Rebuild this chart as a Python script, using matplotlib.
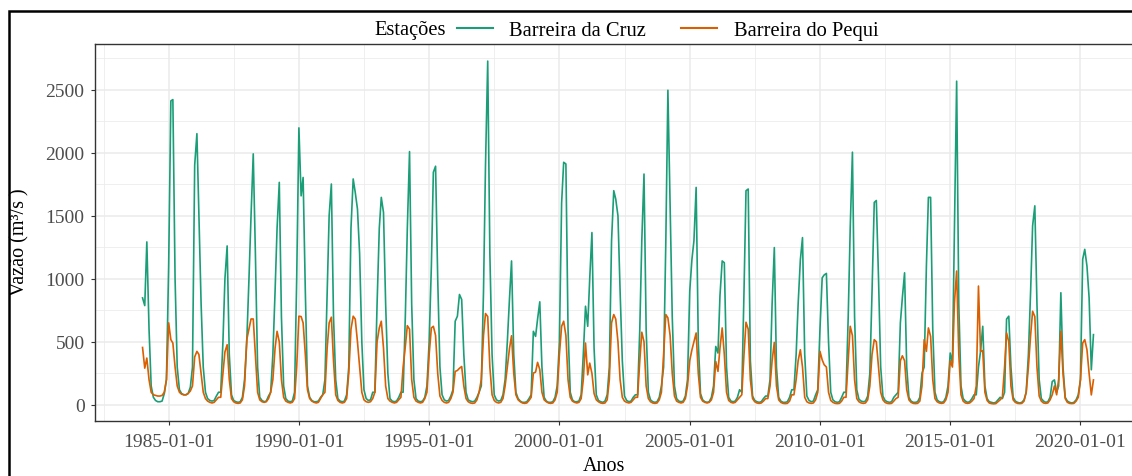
import numpy as np
import pandas as pd
import matplotlib
matplotlib.use("Agg")
import matplotlib.pyplot as plt
import matplotlib.dates as mdates
from matplotlib.lines import Line2D
from matplotlib.patches import Rectangle

# Monthly mean discharge (m3/s), one line per year, starting January 1984
start_month = "1984-01-01"
station_names = ["Barreira da Cruz", "Barreira do Pequi"]
station_colors = ["#1B9E77", "#D95F02"]
legend_title = "Estações"

cruz = [
    848, 787, 1292, 600, 150, 60, 35, 25, 25, 30, 90, 200,          # 1984
    1100, 2410, 2420, 1000, 300, 120, 90, 80, 80, 90, 140, 300,     # 1985
    1900, 2150, 1500, 800, 300, 100, 50, 35, 30, 35, 70, 100,       # 1986
    100, 500, 1000, 1260, 400, 80, 35, 25, 20, 25, 60, 200,         # 1987
    500, 1000, 1500, 1990, 1200, 300, 60, 35, 25, 30, 70, 100,      # 1988
    400, 900, 1400, 1764, 700, 150, 50, 30, 25, 30, 100, 1000,      # 1989
    2196, 1657, 1803, 900, 150, 60, 35, 25, 25, 30, 60, 80,         # 1990
    200, 900, 1500, 1751, 700, 200, 50, 30, 25, 30, 80, 300,        # 1991
    1400, 1791, 1684, 1552, 1200, 500, 120, 50, 35, 40, 100, 100,   # 1992
    800, 1400, 1645, 1525, 800, 250, 50, 30, 25, 30, 60, 100,       # 1993
    100, 700, 1400, 2008, 800, 200, 50, 30, 25, 30, 60, 150,        # 1994
    500, 1100, 1844, 1892, 1000, 300, 80, 40, 30, 35, 70, 120,      # 1995
    663, 703, 875, 835, 400, 100, 40, 30, 25, 30, 60, 100,          # 1996
    150, 900, 1900, 2725, 1200, 400, 80, 40, 30, 35, 80, 200,       # 1997
    500, 850, 1141, 400, 100, 50, 30, 20, 20, 25, 50, 80,           # 1998
    583, 543, 680, 817, 300, 60, 30, 20, 20, 25, 60, 150,           # 1999
    500, 1600, 1923, 1910, 600, 100, 40, 25, 25, 30, 80, 400,       # 2000
    782, 623, 1000, 1366, 450, 80, 35, 25, 20, 30, 80, 300,         # 2001
    1300, 1698, 1631, 1498, 900, 350, 70, 35, 25, 30, 60, 80,       # 2002
    80, 600, 1300, 1830, 600, 100, 40, 25, 20, 25, 60, 150,         # 2003
    300, 1300, 2494, 1600, 700, 150, 50, 30, 25, 30, 70, 200,       # 2004
    900, 1154, 1300, 1724, 500, 90, 40, 25, 20, 25, 60, 150,        # 2005
    463, 411, 866, 1141, 1127, 300, 60, 30, 25, 30, 60, 120,        # 2006
    100, 900, 1698, 1711, 350, 70, 35, 25, 20, 25, 50, 70,          # 2007
    70, 200, 800, 1247, 300, 60, 30, 20, 20, 25, 60, 120,           # 2008
    120, 400, 800, 1150, 1326, 400, 70, 35, 25, 30, 80, 120,        # 2009
    600, 1007, 1030, 1042, 500, 100, 40, 25, 20, 25, 60, 100,       # 2010
    100, 700, 1400, 2003, 700, 120, 45, 30, 25, 30, 70, 250,        # 2011
    900, 1605, 1620, 1000, 300, 70, 35, 25, 20, 25, 60, 80,         # 2012
    100, 650, 850, 1047, 300, 60, 30, 20, 20, 25, 60, 250,          # 2013
    300, 1100, 1645, 1645, 600, 100, 40, 25, 20, 25, 60, 150,       # 2014
    411, 331, 1400, 2566, 800, 150, 50, 30, 20, 25, 50, 80,         # 2015
    80, 300, 424, 623, 150, 50, 25, 20, 15, 20, 40, 60,             # 2016
    50, 100, 680, 703, 300, 60, 30, 20, 15, 20, 40, 100,            # 2017
    400, 900, 1419, 1578, 800, 200, 50, 30, 20, 25, 60, 185,        # 2018
    198, 100, 150, 889, 300, 60, 30, 20, 15, 20, 40, 80,            # 2019
    200, 1154, 1233, 1100, 850, 278, 557,                           # 2020
]

pequi = [
    455, 291, 371, 200, 100, 80, 75, 70, 70, 75, 100, 200,          # 1984
    650, 517, 490, 300, 150, 100, 85, 80, 80, 90, 110, 150,         # 1985
    380, 424, 400, 250, 100, 50, 30, 20, 15, 20, 40, 60,            # 1986
    60, 250, 420, 477, 200, 50, 25, 15, 12, 15, 40, 150,            # 1987
    517, 600, 681, 681, 400, 100, 40, 25, 20, 25, 50, 100,          # 1988
    200, 450, 583, 500, 200, 60, 30, 20, 15, 20, 50, 300,           # 1989
    703, 700, 650, 400, 120, 50, 30, 20, 15, 20, 50, 80,            # 1990
    100, 450, 650, 695, 350, 80, 35, 20, 15, 20, 50, 250,           # 1991
    600, 703, 680, 500, 300, 100, 40, 25, 20, 25, 50, 100,          # 1992
    500, 610, 663, 450, 150, 50, 30, 20, 15, 20, 40, 60,            # 1993
    300, 463, 628, 600, 200, 60, 30, 20, 15, 20, 50, 100,           # 1994
    400, 610, 623, 550, 250, 70, 35, 20, 15, 20, 50, 100,           # 1995
    265, 273, 290, 304, 150, 50, 25, 15, 12, 15, 40, 100,           # 1996
    200, 550, 724, 700, 300, 80, 35, 20, 15, 20, 50, 150,           # 1997
    300, 450, 548, 250, 80, 40, 25, 15, 12, 15, 35, 60,             # 1998
    252, 260, 337, 280, 100, 40, 25, 15, 12, 15, 40, 100,           # 1999
    400, 623, 663, 550, 200, 60, 30, 20, 15, 20, 50, 200,           # 2000
    490, 238, 331, 250, 90, 40, 25, 15, 12, 15, 40, 200,            # 2001
    650, 716, 680, 500, 200, 60, 30, 20, 15, 20, 40, 60,            # 2002
    60, 350, 576, 500, 150, 50, 25, 15, 12, 15, 40, 100,            # 2003
    400, 716, 690, 550, 250, 70, 30, 20, 15, 20, 50, 150,           # 2004
    350, 437, 500, 570, 250, 60, 30, 20, 15, 20, 40, 100,           # 2005
    344, 265, 450, 610, 400, 100, 35, 20, 15, 20, 40, 60,           # 2006
    80, 400, 655, 600, 200, 50, 25, 15, 12, 15, 30, 50,             # 2007
    50, 150, 350, 495, 150, 40, 20, 12, 10, 12, 30, 80,             # 2008
    80, 200, 350, 437, 300, 60, 25, 15, 12, 15, 40, 100,            # 2009
    424, 357, 318, 300, 100, 35, 20, 12, 10, 12, 30, 60,            # 2010
    60, 350, 623, 550, 200, 50, 25, 15, 12, 15, 40, 150,            # 2011
    400, 517, 500, 300, 100, 40, 20, 12, 10, 12, 30, 50,            # 2012
    60, 350, 389, 350, 120, 40, 20, 12, 10, 12, 30, 150,            # 2013
    517, 424, 610, 543, 200, 50, 25, 15, 12, 15, 40, 100,           # 2014
    350, 300, 809, 1061, 400, 80, 30, 15, 12, 15, 30, 50,           # 2015
    150, 942, 424, 430, 100, 35, 15, 10, 8, 10, 25, 40,             # 2016
    60, 300, 570, 500, 150, 40, 20, 12, 10, 12, 30, 100,            # 2017
    300, 550, 742, 700, 300, 70, 30, 15, 12, 15, 40, 80,            # 2018
    150, 80, 200, 583, 250, 50, 20, 12, 10, 12, 30, 60,             # 2019
    200, 490, 517, 437, 250, 79, 198,                               # 2020
]

x_tick_labels = ["1985-01-01", "1990-01-01", "1995-01-01", "2000-01-01",
                 "2005-01-01", "2010-01-01", "2015-01-01", "2020-01-01"]
y_ticks = [0, 500, 1000, 1500, 2000, 2500]

# ---------------------------------------------------------------------------
plt.rcParams["font.family"] = ["Liberation Serif", "DejaVu Serif"]

W, H = 1132, 477
fig = plt.figure(figsize=(W / 100, H / 100), dpi=100)
fig.patch.set_facecolor("white")

# outer frame around the whole figure
fig.add_artist(Rectangle((9 / W, -0.2), 1.5, 1.2 - 12 / H, transform=fig.transFigure,
                         fill=False, edgecolor="black", linewidth=1.8))

ax = fig.add_axes([95 / W, 1 - 422 / H, (1141 - 95) / W, (422 - 45) / H])
ax.set_facecolor("white")

months = pd.date_range(start_month, periods=len(cruz), freq="MS")
xnum = mdates.date2num(months)

for values, name, color in zip([cruz, pequi], station_names, station_colors):
    ax.plot(xnum, values, color=color, linewidth=1.2, label=name, zorder=3)

# ggplot-like 5% expansion of the data range
xspan = xnum[-1] - xnum[0]
ax.set_xlim(xnum[0] - 0.05 * xspan, xnum[-1] + 0.05 * xspan)
allv = np.array(cruz + pequi, dtype=float)
yspan = allv.max() - allv.min()
ax.set_ylim(allv.min() - 0.05 * yspan, allv.max() + 0.05 * yspan)

xmaj = mdates.date2num(pd.to_datetime(x_tick_labels))
ax.set_xticks(xmaj)
ax.set_xticklabels(x_tick_labels)
step = xmaj[1] - xmaj[0]
xmin_lim, xmax_lim = ax.get_xlim()
xminor = np.arange(xmaj[0] - step / 2, xmax_lim, step)
xminor = xminor[(xminor > xmin_lim) & (~np.isin(np.round(xminor), np.round(xmaj)))]
ax.set_xticks(xminor, minor=True)

ax.set_yticks(y_ticks)
ylo, yhi = ax.get_ylim()
yminor = np.arange(-250, yhi, 500)
yminor = yminor[yminor > ylo]
ax.set_yticks(yminor, minor=True)

ax.grid(which="major", color="#EBEBEB", linewidth=1.1, zorder=0)
ax.grid(which="minor", color="#EBEBEB", linewidth=0.55, zorder=0)
ax.set_axisbelow(True)

for sp in ax.spines.values():
    sp.set_color("#333333")
    sp.set_linewidth(1.0)

ax.tick_params(which="major", length=3, width=0.8, color="#333333",
               labelsize=14, labelcolor="#4D4D4D")
ax.tick_params(axis="y", which="major", pad=4.5)
ax.tick_params(axis="x", which="major", pad=6)
ax.tick_params(which="minor", length=0)

# axis titles
fig.text(604 / W, 1 - 467 / H, "Anos", ha="center", va="center", fontsize=14.5)
fig.text(20 / W, 1 - 242 / H, "Vazão (m³/s )", rotation=90,
         ha="center", va="center", fontsize=14.5)

# legend row above the panel
fig.text(446 / W, 1 - 31 / H, legend_title, ha="right", va="center", fontsize=14.8)
handles = [Line2D([], [], color=c, linewidth=1.5) for c in station_colors]
fig.legend(handles, station_names, loc="center left",
           bbox_to_anchor=(457 / W, 1 - 31 / H), ncol=2, frameon=False,
           fontsize=14.8, handlelength=1.75, handletextpad=0.8,
           columnspacing=1.7, borderpad=0, borderaxespad=0)

fig.savefig("out.png", dpi=100, facecolor="white")
